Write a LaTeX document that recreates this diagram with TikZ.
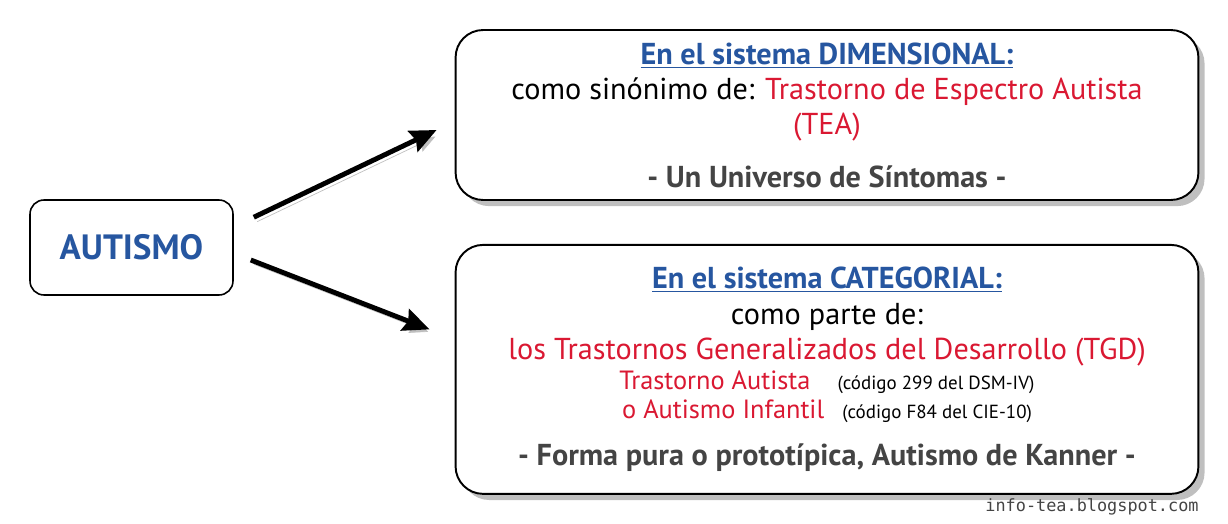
\documentclass[tikz,border=0pt]{standalone}
\usepackage{fontspec}
\setmainfont{PT Sans}
\setmonofont{DejaVu Sans Mono}
\usetikzlibrary{shapes.geometric, arrows.meta, positioning, calc, shadows}
\definecolor{azul}{RGB}{38,86,160}
\definecolor{rojo}{RGB}{218,24,50}
\definecolor{gris}{RGB}{68,68,68}
\tikzstyle{sistema} = [rectangle, rounded corners=0.55cm, minimum width=14.86cm, line width=1.1pt, draw=black, fill=white, align=center, inner sep=0pt, drop shadow={shadow xshift=3.5pt, shadow yshift=-3.5pt, opacity=0.5}, font=\fontsize{17.2}{20}\selectfont]
\tikzstyle{concepto} = [rectangle, rounded corners=0.28cm, minimum width=4.06cm, minimum height=1.9cm, line width=0.9pt, draw=black, fill=white, font=\fontsize{20}{24}\selectfont\bfseries, text=azul]
\tikzstyle{arrow} = [line width=2.8pt, -{Stealth[length=15pt, width=13pt, inset=2pt]}, preaction={draw=black!25, transform canvas={xshift=2pt, yshift=-2.5pt}}]
\newcommand{\titulo}[1]{\textcolor{azul}{\bfseries\underline{#1}}}
\newcommand{\codigo}[1]{{\fontsize{10.8}{12}\selectfont #1}}

\begin{document}
\begin{tikzpicture}
[x=0.02cm, y=-0.02cm]
\useasboundingbox (0,0) rectangle (1228,524);

\node (dim) [sistema, minimum height=3.4cm] at (827,115) {\titulo{En el sistema DIMENSIONAL:}\\
como sinónimo de: \textcolor{rojo}{Trastorno de Espectro Autista}\\
\textcolor{rojo}{(TEA)}\\[10pt]
\textcolor{gris}{\bfseries - Un Universo de Síntomas -}};
\node (cat) [sistema, minimum height=4.98cm, below=0.86cm of dim] {\titulo{En el sistema CATEGORIAL:}\\
como parte de:\\
\textcolor{rojo}{los Trastornos Generalizados del Desarrollo (TGD)}\\[-3pt]
{\fontsize{15}{17}\selectfont\textcolor{rojo}{Trastorno Autista}}\hspace{0.9em}\codigo{(código 299 del DSM-IV)}\\[-3.5pt]
{\fontsize{15}{17}\selectfont\textcolor{rojo}{o Autismo Infantil}}\hspace{0.6em}\codigo{(código F84 del CIE-10)}\\[7pt]
\textcolor{gris}{\bfseries - Forma pura o prototípica, Autismo de Kanner -}};
\node (autismo) [concepto] at (131.5,247.5) {AUTISMO};
\node (web) [font=\ttfamily\fontsize{9.6}{11}\selectfont, text=gris] at (1092,507) {info-tea.blogspot.com};

\draw [arrow] ($(autismo.north east)+(20,18)$) -- ($(dim.west)+(-18,15)$);
\draw [arrow] ($(autismo.east)+(17,12.5)$) -- ($(cat.west)+(-25,-40)$);

\end{tikzpicture}
\end{document}
